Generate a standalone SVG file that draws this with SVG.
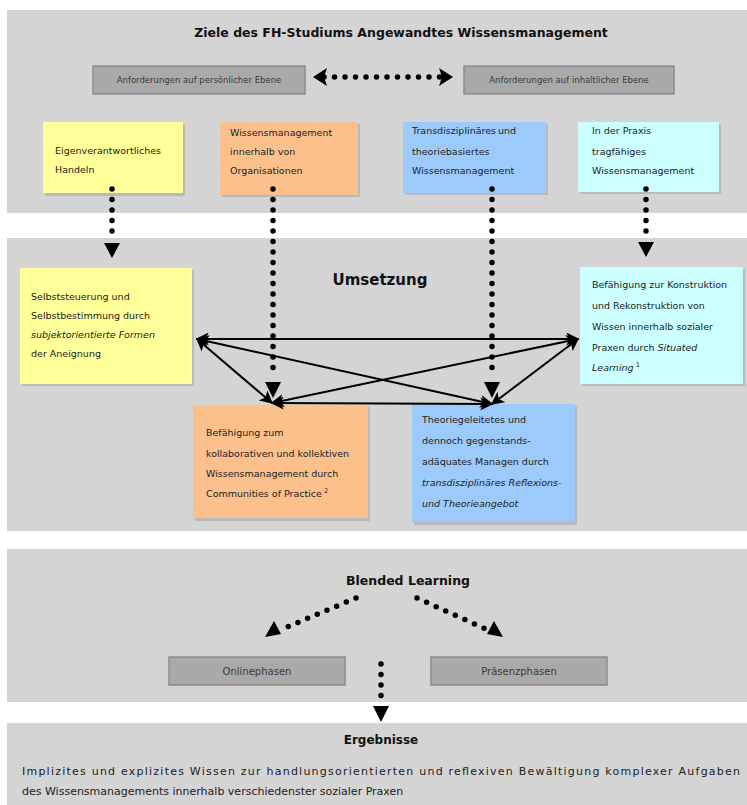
<svg xmlns="http://www.w3.org/2000/svg" width="747" height="805" viewBox="0 0 747 805">
<defs>
<style>
.panel{fill:#d4d4d4}
.gbox{fill:#a9a9a9;stroke:#8c8c8c;stroke-width:1.5}
.gtxt{font-family:"DejaVu Sans",Verdana,sans-serif;font-size:8.5px;fill:#3a3a3a}
.t{font-family:"DejaVu Sans",Verdana,sans-serif;font-size:9.5px;fill:#222}
.i{font-style:italic}
.h{font-family:"DejaVu Sans",Verdana,sans-serif;font-weight:bold;fill:#111;text-anchor:middle}
.yel{fill:#ffff99}
.ora{fill:#fcc08d}
.blu{fill:#9ccbfb}
.cya{fill:#ccffff}
.shadow{fill:#9a9a9a;opacity:0.45}
.dot{fill:none;stroke:#000;stroke-width:5.5;stroke-linecap:round;stroke-dasharray:0 10.5}
.sol{fill:none;stroke:#000;stroke-width:2}
.head{fill:#000}
</style>
<marker id="ah" viewBox="0 0 10 10" refX="9" refY="5" markerWidth="6.5" markerHeight="6.5" orient="auto-start-reverse" markerUnits="strokeWidth">
<path d="M0,0 L10,5 L0,10 L2.5,5 z" fill="#000"/>
</marker>
</defs>

<g id="panels">
<rect class="panel" x="7" y="10" width="740" height="203"/>
<rect class="panel" x="7" y="238" width="740" height="293"/>
<rect class="panel" x="7" y="549" width="740" height="153"/>
<rect class="panel" x="7" y="723" width="740" height="82"/>
</g>

<g id="title">
<text class="h" x="401" y="37" font-size="12.5">Ziele des FH-Studiums Angewandtes Wissensmanagement</text>
</g>

<g id="req-personal">
<rect class="gbox" x="93" y="66" width="212" height="28"/>
<text class="gtxt" x="199" y="83" text-anchor="middle">Anforderungen auf persönlicher Ebene</text>
</g>
<g id="req-content">
<rect class="gbox" x="464" y="66" width="210" height="28"/>
<text class="gtxt" x="569" y="83" text-anchor="middle">Anforderungen auf inhaltlicher Ebene</text>
</g>

<g id="goal-yellow">
<rect class="shadow" x="45" y="124" width="140" height="72"/>
<rect class="yel" x="43" y="122" width="140" height="71"/>
<text class="t" x="55" y="154">Eigenverantwortliches</text>
<text class="t" x="55" y="173">Handeln</text>
</g>
<g id="goal-orange">
<rect class="shadow" x="222" y="124" width="138" height="73"/>
<rect class="ora" x="220" y="122" width="138" height="73"/>
<text class="t" x="230" y="136">Wissensmanagement</text>
<text class="t" x="230" y="155">innerhalb von</text>
<text class="t" x="230" y="174">Organisationen</text>
</g>
<g id="goal-blue">
<rect class="shadow" x="405" y="124" width="143" height="71"/>
<rect class="blu" x="403" y="122" width="143" height="71"/>
<text class="t" x="412" y="134">Transdisziplinäres</text>
<text class="t" x="516" y="134" text-anchor="end">und</text>
<text class="t" x="412" y="155">theoriebasiertes</text>
<text class="t" x="412" y="174">Wissensmanagement</text>
</g>
<g id="goal-cyan">
<rect class="shadow" x="580" y="124" width="141" height="70"/>
<rect class="cya" x="578" y="122" width="141" height="70"/>
<text class="t" x="592" y="134">In der Praxis</text>
<text class="t" x="592" y="155">tragfähiges</text>
<text class="t" x="592" y="174">Wissensmanagement</text>
</g>

<g id="umsetzung-title">
<text class="h" x="380" y="285" font-size="15">Umsetzung</text>
</g>

<g id="impl-yellow">
<rect class="shadow" x="22" y="270" width="172" height="116"/>
<rect class="yel" x="20" y="268" width="172" height="116"/>
<text class="t" x="31" y="300">Selbststeuerung und</text>
<text class="t" x="31" y="319">Selbstbestimmung durch</text>
<text class="t i" x="31" y="338">subjektorientierte Formen</text>
<text class="t" x="31" y="357">der Aneignung</text>
</g>
<g id="impl-cyan">
<rect class="shadow" x="582" y="269" width="163" height="117"/>
<rect class="cya" x="580" y="267" width="163" height="117"/>
<text class="t" x="592" y="288">Befähigung zur Konstruktion</text>
<text class="t" x="592" y="309">und  Rekonstruktion von</text>
<text class="t" x="592" y="330">Wissen innerhalb sozialer</text>
<text class="t" x="592" y="351">Praxen durch <tspan class="i">Situated</tspan></text>
<text class="t" x="592" y="371"><tspan class="i">Learning</tspan><tspan font-size="6.5" dy="-4"> 1</tspan></text>
</g>
<g id="impl-orange">
<rect class="shadow" x="195" y="407" width="175" height="114"/>
<rect class="ora" x="193" y="405" width="175" height="113"/>
<text class="t" x="206" y="436">Befähigung zum</text>
<text class="t" x="206" y="457">kollaborativen und kollektiven</text>
<text class="t" x="206" y="477">Wissensmanagement durch</text>
<text class="t" x="206" y="497">Communities of Practice<tspan font-size="6.5" dy="-4"> 2</tspan></text>
</g>
<g id="impl-blue">
<rect class="shadow" x="414" y="406" width="163" height="119"/>
<rect class="blu" x="412" y="404" width="163" height="118"/>
<text class="t" x="422" y="423">Theoriegeleitetes und</text>
<text class="t" x="422" y="444">dennoch gegenstands-</text>
<text class="t" x="422" y="465">adäquates Managen durch</text>
<text class="t i" x="422" y="486">transdisziplinäres Reflexions-</text>
<text class="t i" x="422" y="507">und Theorieangebot</text>
</g>

<g id="blended-title">
<text class="h" x="408" y="585" font-size="12.5">Blended Learning</text>
</g>
<g id="online">
<rect class="gbox" x="169" y="657" width="176" height="28"/>
<text class="gtxt" x="257" y="675" text-anchor="middle" style="font-size:10px">Onlinephasen</text>
</g>
<g id="praesenz">
<rect class="gbox" x="431" y="657" width="176" height="28"/>
<text class="gtxt" x="519" y="675" text-anchor="middle" style="font-size:10px">Präsenzphasen</text>
</g>

<g id="ergebnisse">
<text class="h" x="381" y="744" font-size="12">Ergebnisse</text>
<text class="t" x="22" y="775" style="font-size:11px" textLength="718" lengthAdjust="spacing">Implizites und explizites Wissen zur handlungsorientierten und reflexiven Bewältigung komplexer Aufgaben</text>
<text class="t" x="22" y="795" style="font-size:11px">des Wissensmanagements innerhalb verschiedenster sozialer Praxen</text>
</g>

<g id="connectors">
<line class="dot" x1="324" y1="77" x2="444" y2="77"/>
<path class="head" d="M313,77 L327,68 L324,77 L327,86 z"/>
<path class="head" d="M453,77 L439,68 L442,77 L439,86 z"/>
<line class="dot" x1="112" y1="189" x2="112" y2="240"/>
<path class="head" d="M112,258 L104,243 L120,243 z"/>
<line class="dot" x1="273" y1="189" x2="273" y2="378"/>
<path class="head" d="M273,398 L265,382 L281,382 z"/>
<line class="dot" x1="492" y1="189" x2="492" y2="378"/>
<path class="head" d="M492,398 L484,382 L500,382 z"/>
<line class="dot" x1="646" y1="189" x2="646" y2="240"/>
<path class="head" d="M646,257 L638,242 L654,242 z"/>
<line class="sol" x1="197" y1="339" x2="578" y2="339" marker-start="url(#ah)" marker-end="url(#ah)"/>
<line class="sol" x1="197" y1="339" x2="272" y2="403" marker-start="url(#ah)" marker-end="url(#ah)"/>
<line class="sol" x1="197" y1="339" x2="492" y2="404" marker-start="url(#ah)" marker-end="url(#ah)"/>
<line class="sol" x1="578" y1="339" x2="272" y2="403" marker-start="url(#ah)" marker-end="url(#ah)"/>
<line class="sol" x1="578" y1="339" x2="492" y2="404" marker-start="url(#ah)" marker-end="url(#ah)"/>
<line class="sol" x1="272" y1="403" x2="492" y2="404" marker-start="url(#ah)" marker-end="url(#ah)"/>
<line class="dot" x1="356" y1="598" x2="280" y2="630"/>
<path class="head" d="M265,637 L274,621 L281,634 z"/>
<line class="dot" x1="417" y1="598" x2="488" y2="630"/>
<path class="head" d="M503,637 L487,634 L494,621 z"/>
<line class="dot" x1="381" y1="664" x2="381" y2="700"/>
<path class="head" d="M381,722 L373,706 L389,706 z"/>
</g>
</svg>
